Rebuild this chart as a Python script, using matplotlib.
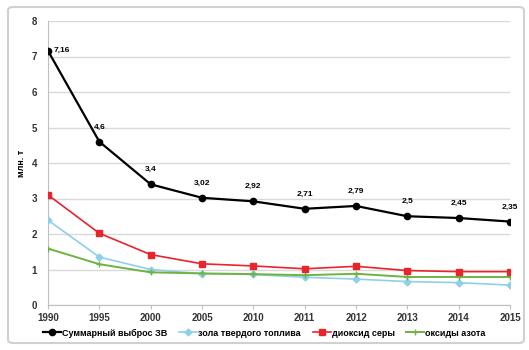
import matplotlib.pyplot as plt
from matplotlib.patches import FancyBboxPatch

years = ['1990', '1995', '2000', '2005', '2010', '2011', '2012', '2013', '2014', '2015']
total = [7.16, 4.6, 3.4, 3.02, 2.92, 2.71, 2.79, 2.5, 2.45, 2.35]
total_labels = ['7,16', '4,6', '3,4', '3,02', '2,92', '2,71', '2,79', '2,5', '2,45', '2,35']
ash = [2.39, 1.35, 1.0, 0.88, 0.86, 0.78, 0.73, 0.66, 0.63, 0.56]
so2 = [3.1, 2.02, 1.42, 1.16, 1.1, 1.02, 1.09, 0.97, 0.94, 0.94]
nox = [1.59, 1.15, 0.92, 0.89, 0.87, 0.84, 0.88, 0.79, 0.79, 0.79]

names = ['Суммарный выброс ЗВ', 'зола твердого топлива', 'диоксид серы', 'оксиды азота']

plt.rcParams['font.family'] = ['Liberation Sans', 'DejaVu Sans']

fig = plt.figure(figsize=(5.29, 3.5), dpi=100)
ax = fig.add_axes([48 / 529, 45 / 350, 462 / 529, 284 / 350])

# рамка вокруг диаграммы
frame = FancyBboxPatch((8 / 529, 7 / 350), 516 / 529, 336 / 350,
                       boxstyle='round,pad=0,rounding_size=0.01',
                       transform=fig.transFigure, fill=False,
                       edgecolor='#d0d0d0', linewidth=1.5)
fig.patches.append(frame)

x = list(range(len(years)))
ax.plot(x, total, color='black', marker='o', markersize=4.5, linewidth=1.6, label=names[0], zorder=5)
ax.plot(x, ash, color='#8fd0e8', marker='D', markersize=3.5, linewidth=1.2, label=names[1], zorder=3)
ax.plot(x, so2, color='#e8242c', marker='s', markersize=5, linewidth=1.2, label=names[2], zorder=4)
ax.plot(x, nox, color='#6db33f', marker='+', markersize=4, linewidth=1.4, label=names[3], zorder=3)

for i, (v, t) in enumerate(zip(total, total_labels)):
    if i == 0:
        ax.annotate(t, (i, v), xytext=(4, 0), textcoords='offset points',
                    fontsize=6, fontweight='bold', va='center', ha='left')
    else:
        ax.annotate(t, (i, v), xytext=(0, 8), textcoords='offset points',
                    fontsize=6, fontweight='bold', va='bottom', ha='center')

ax.set_xlim(0, len(years) - 1)
ax.set_ylim(0, 8)
ax.set_xticks(x)
ax.set_xticklabels(years)
ax.set_yticks(range(0, 9))
ax.tick_params(axis='both', labelsize=7, colors='#333333', length=3, width=0.8)
for lab in ax.get_xticklabels() + ax.get_yticklabels():
    lab.set_fontweight('bold')
ax.tick_params(axis='y', length=0, pad=8)
ax.tick_params(axis='x', color='#bfbfbf', pad=3)

ax.grid(axis='y', color='#d9d9d9', linewidth=1.0)
ax.set_axisbelow(True)
for s in ['top', 'right']:
    ax.spines[s].set_visible(False)
ax.spines['left'].set_color('#bfbfbf')
ax.spines['bottom'].set_color('#bfbfbf')
ax.set_ylabel('млн. т', fontsize=6.5, fontweight='bold', labelpad=4)

fig.legend(loc='center', bbox_to_anchor=(0.5, 17 / 350), ncol=4, frameon=False,
           handlelength=2.0, columnspacing=1.3, handletextpad=0.1,
           prop={'weight': 'bold', 'size': 6.5})

fig.savefig('out.png', dpi=100)
